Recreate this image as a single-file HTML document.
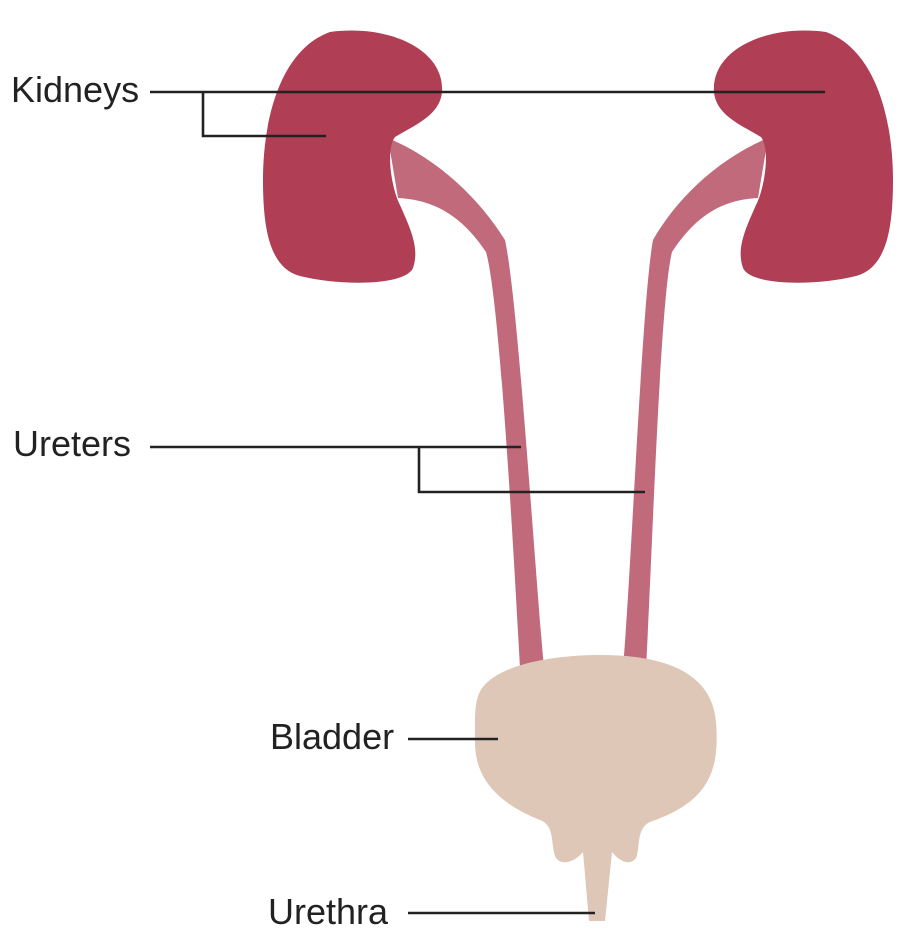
<!DOCTYPE html>
<html><head><meta charset="utf-8"><style>
html,body{margin:0;padding:0;background:#fff;}
svg{display:block}
text{font-family:"Liberation Sans",sans-serif;font-size:36px;fill:#222;}
</style></head><body>
<svg width="916" height="946" viewBox="0 0 916 946" xmlns="http://www.w3.org/2000/svg">
<path fill="#c06a7c" d="M388,138 C440,160 480,200 505,240 C518,300 534,560 544,668 L520,668 C514,560 500,300 486,252 C466,222 440,200 398,198 Z"/>
<path fill="#c06a7c" d="M768,138 C716,160 676,200 653,240 C642,300 632,560 623,668 L646,668 C652,560 660,300 672,252 C692,222 716,200 758,198 Z"/>
<path id="k" fill="#b03e55" d="M330,32 C390,24 445,50 442,92 C440,115 415,125 395,137 C385,150 392,190 400,205 C410,228 420,248 413,268 C405,286 340,286 300,276 C270,268 263,230 263,180 C263,120 280,50 330,32 Z"/>
<use href="#k" transform="translate(1156,0) scale(-1,1)"/>
<path fill="#dfc7b7" d="M482,688 C502,662 560,655 600,655 C660,655 712,670 716,722 C720,772 708,802 650,822 C636,828 640,850 636,858 C630,866 620,862 612,852 L605,921 L589,921 L583,852 C575,862 562,866 556,858 C550,846 556,826 540,820 C490,800 475,772 475,742 C475,716 474,700 482,688 Z"/>
<g stroke="#222" stroke-width="2.6" fill="none">
<path d="M150,92 H825"/>
<path d="M203,92 V136 H326"/>
<path d="M150,447 H521"/>
<path d="M419,447 V492 H645"/>
<path d="M408,739 H498"/>
<path d="M408,913 H595"/>
</g>
<text x="11" y="102">Kidneys</text>
<text x="13" y="456">Ureters</text>
<text x="270" y="749">Bladder</text>
<text x="268" y="924">Urethra</text>
</svg>
</body></html>
